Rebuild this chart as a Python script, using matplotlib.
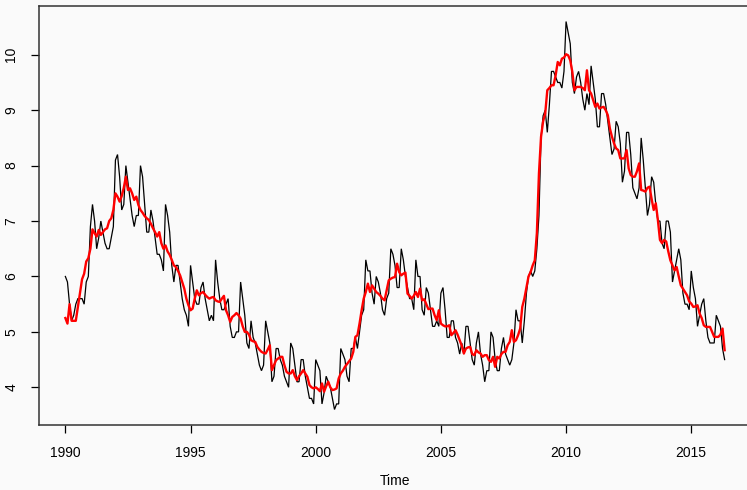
import numpy as np
import matplotlib
matplotlib.use("Agg")
import matplotlib.pyplot as plt

plt.rcParams['font.family'] = ['Liberation Sans', 'DejaVu Sans']

# Monthly unemployment rate (%), January 1990 onwards
start_year = 1990

unrate_raw = [
    6.0, 5.9, 5.5, 5.2, 5.3, 5.5, 5.6, 5.6, 5.6, 5.5, 5.9, 6.0,    # 1990
    6.9, 7.3, 7.0, 6.5, 6.7, 7.0, 6.8, 6.6, 6.5, 6.5, 6.7, 6.9,    # 1991
    8.1, 8.2, 7.8, 7.2, 7.3, 8.0, 7.7, 7.4, 7.1, 6.9, 7.1, 7.1,    # 1992
    8.0, 7.8, 7.3, 6.8, 6.8, 7.2, 7.0, 6.7, 6.4, 6.4, 6.3, 6.1,    # 1993
    7.3, 7.1, 6.8, 6.2, 5.9, 6.2, 6.2, 5.9, 5.6, 5.4, 5.3, 5.1,    # 1994
    6.2, 5.9, 5.6, 5.5, 5.5, 5.8, 5.9, 5.6, 5.4, 5.2, 5.3, 5.2,    # 1995
    6.3, 5.9, 5.6, 5.4, 5.4, 5.5, 5.6, 5.1, 4.9, 4.9, 5.0, 5.0,    # 1996
    5.9, 5.6, 5.3, 4.8, 4.7, 5.2, 4.9, 4.8, 4.6, 4.4, 4.3, 4.4,    # 1997
    5.2, 5.0, 4.8, 4.1, 4.2, 4.7, 4.7, 4.5, 4.4, 4.2, 4.1, 4.0,    # 1998
    4.8, 4.7, 4.4, 4.1, 4.1, 4.5, 4.5, 4.2, 4.0, 3.8, 3.8, 3.7,    # 1999
    4.5, 4.4, 4.3, 3.7, 3.9, 4.2, 4.1, 4.0, 3.8, 3.6, 3.7, 3.7,    # 2000
    4.7, 4.6, 4.5, 4.2, 4.1, 4.7, 4.7, 4.9, 4.7, 5.0, 5.3, 5.4,    # 2001
    6.3, 6.1, 6.1, 5.7, 5.5, 6.0, 5.9, 5.7, 5.4, 5.3, 5.6, 5.7,    # 2002
    6.5, 6.4, 6.2, 5.8, 5.8, 6.5, 6.3, 6.0, 5.8, 5.6, 5.6, 5.4,    # 2003
    6.3, 6.0, 6.0, 5.4, 5.3, 5.8, 5.7, 5.4, 5.1, 5.1, 5.2, 5.1,    # 2004
    5.7, 5.8, 5.4, 4.9, 4.9, 5.2, 5.2, 4.9, 4.8, 4.6, 4.8, 4.6,    # 2005
    5.1, 5.1, 4.8, 4.5, 4.4, 4.8, 5.0, 4.6, 4.4, 4.1, 4.3, 4.3,    # 2006
    5.0, 4.9, 4.5, 4.3, 4.3, 4.7, 4.9, 4.6, 4.5, 4.4, 4.5, 4.8,    # 2007
    5.4, 5.2, 5.2, 4.8, 5.2, 5.7, 6.0, 6.1, 6.0, 6.1, 6.5, 7.1,    # 2008
    8.5, 8.9, 9.0, 8.6, 9.1, 9.7, 9.7, 9.6, 9.5, 9.5, 9.4, 9.7,    # 2009
    10.6, 10.4, 10.2, 9.5, 9.3, 9.6, 9.7, 9.5, 9.2, 9.0, 9.3, 9.1, # 2010
    9.8, 9.5, 9.2, 8.7, 8.7, 9.3, 9.3, 9.1, 8.8, 8.5, 8.2, 8.3,    # 2011
    8.8, 8.7, 8.4, 7.7, 7.9, 8.6, 8.6, 8.2, 7.6, 7.5, 7.4, 7.6,    # 2012
    8.5, 8.1, 7.6, 7.1, 7.3, 7.8, 7.7, 7.3, 7.0, 7.0, 6.6, 6.5,    # 2013
    7.0, 7.0, 6.8, 5.9, 6.1, 6.3, 6.5, 6.3, 5.7, 5.5, 5.5, 5.4,    # 2014
    6.1, 5.8, 5.6, 5.1, 5.3, 5.5, 5.6, 5.2, 4.9, 4.8, 4.8, 4.8,    # 2015
    5.3, 5.2, 5.1, 4.7, 4.5,                                       # 2016
]

unrate_adj = [
    5.25, 5.15, 5.50, 5.20, 5.20, 5.20, 5.45, 5.70, 5.95, 6.05, 6.27, 6.33,   # 1990
    6.50, 6.85, 6.78, 6.72, 6.84, 6.75, 6.80, 6.85, 6.87, 7.00, 7.05, 7.20,   # 1991
    7.50, 7.44, 7.35, 7.45, 7.60, 7.80, 7.56, 7.59, 7.50, 7.38, 7.44, 7.29,   # 1992
    7.20, 7.15, 7.09, 7.05, 7.02, 6.95, 6.87, 6.80, 6.72, 6.80, 6.60, 6.50,   # 1993
    6.56, 6.45, 6.39, 6.30, 6.20, 6.17, 6.10, 6.02, 5.90, 5.78, 5.60, 5.48,   # 1994
    5.39, 5.42, 5.60, 5.75, 5.66, 5.70, 5.72, 5.67, 5.63, 5.60, 5.62, 5.63,   # 1995
    5.57, 5.55, 5.54, 5.60, 5.65, 5.39, 5.30, 5.18, 5.27, 5.30, 5.34, 5.30,   # 1996
    5.24, 5.10, 5.00, 5.00, 4.95, 4.85, 4.83, 4.82, 4.73, 4.68, 4.64, 4.62,   # 1997
    4.61, 4.68, 4.76, 4.31, 4.40, 4.49, 4.52, 4.55, 4.55, 4.40, 4.28, 4.25,   # 1998
    4.25, 4.31, 4.20, 4.13, 4.20, 4.25, 4.31, 4.25, 4.19, 4.04, 4.00, 3.98,   # 1999
    4.00, 3.97, 3.93, 4.07, 3.92, 4.02, 4.10, 4.00, 3.95, 3.96, 3.98, 4.16,   # 2000
    4.25, 4.30, 4.37, 4.42, 4.47, 4.52, 4.64, 4.91, 4.94, 5.15, 5.39, 5.60,   # 2001
    5.72, 5.87, 5.72, 5.84, 5.78, 5.72, 5.69, 5.65, 5.60, 5.57, 5.75, 5.93,   # 2002
    5.96, 5.98, 5.99, 6.23, 6.08, 6.02, 6.05, 6.07, 5.69, 5.65, 5.60, 5.65,   # 2003
    5.72, 5.63, 5.78, 5.57, 5.59, 5.50, 5.41, 5.42, 5.42, 5.30, 5.21, 5.39,   # 2004
    5.15, 5.12, 5.10, 5.10, 5.12, 4.94, 4.98, 5.03, 4.95, 4.85, 4.75, 4.61,   # 2005
    4.70, 4.72, 4.73, 4.60, 4.58, 4.67, 4.63, 4.61, 4.55, 4.58, 4.58, 4.49,   # 2006
    4.46, 4.55, 4.37, 4.55, 4.52, 4.60, 4.64, 4.64, 4.76, 4.82, 5.03, 4.82,   # 2007
    4.85, 4.94, 5.06, 5.45, 5.60, 5.80, 6.00, 6.08, 6.20, 6.29, 6.78, 7.86,   # 2008
    8.52, 8.80, 8.94, 9.36, 9.40, 9.45, 9.45, 9.63, 9.87, 9.81, 9.93, 9.95,   # 2009
    10.01, 9.99, 9.90, 9.69, 9.36, 9.42, 9.42, 9.42, 9.40, 9.36, 9.72, 9.36,  # 2010
    9.30, 9.18, 9.06, 9.12, 9.03, 9.05, 9.06, 9.00, 8.91, 8.67, 8.52, 8.40,   # 2011
    8.31, 8.28, 8.13, 8.13, 8.13, 8.28, 7.95, 7.83, 7.80, 7.80, 7.90, 8.04,   # 2012
    7.56, 7.55, 7.53, 7.60, 7.62, 7.40, 7.20, 7.32, 7.02, 6.66, 6.60, 6.66,   # 2013
    6.63, 6.45, 6.29, 6.20, 6.11, 6.17, 6.00, 5.84, 5.78, 5.72, 5.66, 5.55,   # 2014
    5.51, 5.45, 5.46, 5.48, 5.33, 5.25, 5.12, 5.09, 5.09, 5.09, 5.00, 4.91,   # 2015
    4.91, 4.91, 4.95, 5.06, 4.67,                                             # 2016
]

x_ticks = [1990, 1995, 2000, 2005, 2010, 2015]
y_ticks = [4, 5, 6, 7, 8, 9, 10]

raw = np.array(unrate_raw)
adj = np.array(unrate_adj)
t_raw = start_year + np.arange(len(raw)) / 12.0
t_adj = start_year + np.arange(len(adj)) / 12.0

bg = '#fafafa'
fig = plt.figure(figsize=(7.47, 4.90), dpi=100, facecolor=bg)
ax = fig.add_axes([39 / 747, 65 / 490, 712 / 747, 419 / 490], facecolor=bg)

ax.plot(t_raw, raw, color='black', lw=0.9, solid_joinstyle='miter')
ax.plot(t_adj, adj, color='#ff0000', lw=1.7)

# 4% padding on each side of the data range
t_lo, t_hi = t_raw.min(), t_raw.max()
y_lo = min(raw.min(), adj.min())
y_hi = max(raw.max(), adj.max())
ax.set_xlim(t_lo - 0.04 * (t_hi - t_lo), t_hi + 0.04 * (t_hi - t_lo))
ax.set_ylim(y_lo - 0.04 * (y_hi - y_lo), y_hi + 0.04 * (y_hi - y_lo))

ax.set_xticks(x_ticks)
ax.set_xticklabels([str(v) for v in x_ticks])
ax.set_yticks(y_ticks)
ax.set_yticklabels([str(v) for v in y_ticks], rotation=90, va='center')

ax.tick_params(axis='both', direction='out', length=6, width=0.9,
               colors='black', labelsize=10, pad=9)
for s in ax.spines.values():
    s.set_color('#333333')
    s.set_linewidth(1.1)

ax.set_xlabel('Time', fontsize=10, labelpad=10)

fig.savefig('out.png', dpi=100, facecolor=bg)
